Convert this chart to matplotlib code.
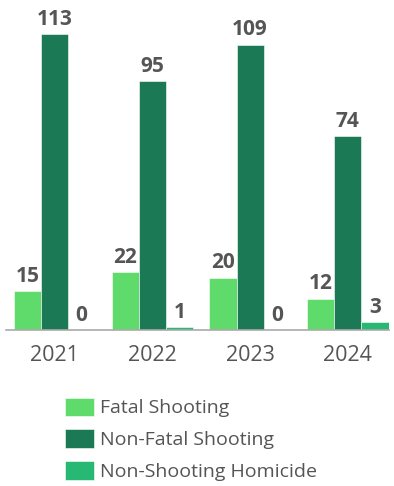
import matplotlib
matplotlib.use("Agg")
import matplotlib.pyplot as plt
import numpy as np

years = ["2021", "2022", "2023", "2024"]
fatal = [15, 22, 20, 12]
non_fatal = [113, 95, 109, 74]
non_shooting = [0, 1, 0, 3]

series = [
    ("Fatal Shooting", fatal, "#5EDB6A"),
    ("Non-Fatal Shooting", non_fatal, "#1B7A55"),
    ("Non-Shooting Homicide", non_shooting, "#27B874"),
]

plt.rcParams["font.family"] = ["Open Sans", "DejaVu Sans"]
text_color = "#555555"

fig = plt.figure(figsize=(3.94, 4.86), dpi=100)
ax = fig.add_axes([6 / 394, 156 / 486, 383 / 394, 330 / 486])

x = np.arange(len(years))
w = 0.277
for i, (name, vals, col) in enumerate(series):
    pos = x + (i - 1) * w
    bars = ax.bar(pos, vals, width=w, color=col, label=name,
                  edgecolor="white", linewidth=0.4)
    for b, v in zip(bars, vals):
        ax.annotate(str(v), (b.get_x() + b.get_width() / 2, v),
                    xytext=(0, 3), textcoords="offset points",
                    ha="center", va="bottom", fontsize=15,
                    fontweight="bold", color=text_color)

ax.set_xlim(-0.496, 3.42)
ax.set_ylim(0, 126)
ax.set_xticks(x)
ax.set_xticklabels(years, fontsize=15.5, color=text_color)
ax.tick_params(axis="x", length=0, pad=11)
ax.set_yticks([])
for s in ("top", "right", "left"):
    ax.spines[s].set_visible(False)
ax.spines["bottom"].set_color("#aaaaaa")
ax.spines["bottom"].set_linewidth(1.2)

leg = fig.legend(loc="upper left", bbox_to_anchor=(47 / 394, 1 - 380 / 486),
                 frameon=False, fontsize=14, handlelength=1.5,
                 handleheight=1.08, handletextpad=0.35, labelspacing=0.62,
                 labelcolor=text_color)

fig.savefig("out.png", dpi=100)
